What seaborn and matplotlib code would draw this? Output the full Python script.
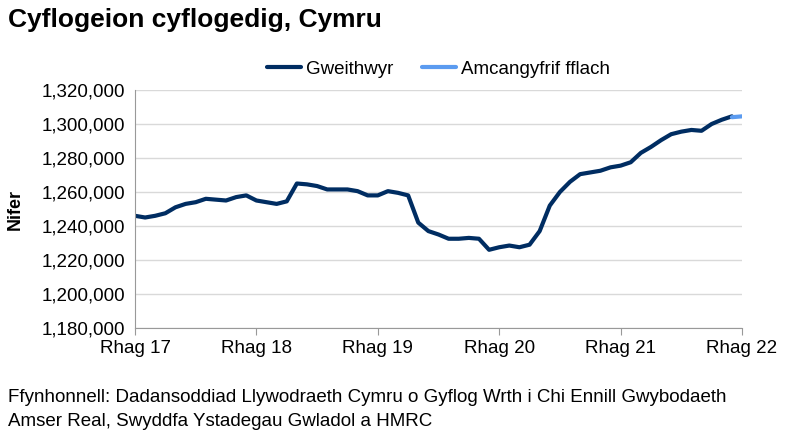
import matplotlib
matplotlib.use("Agg")
import matplotlib.pyplot as plt
import seaborn as sns
import pandas as pd

sns.set_style("white")
plt.rcParams['font.family'] = ['Liberation Sans', 'DejaVu Sans']
plt.rcParams['text.color'] = 'black'
plt.rcParams['xtick.color'] = 'black'
plt.rcParams['ytick.color'] = 'black'

# monthly values, thousands (Dec 2017 .. Dec 2022 axis)
workers = [1246, 1245, 1246, 1247.5, 1251, 1253, 1254, 1256, 1255.5, 1255, 1257, 1258,
           1255, 1254, 1253, 1254.5, 1265, 1264.5, 1263.5, 1261.5, 1261.5, 1261.5, 1260.5, 1258,
           1258, 1260.5, 1259.5, 1258, 1242, 1237, 1235, 1232.5, 1232.5, 1233, 1232.5, 1226,
           1227.5, 1228.5, 1227.5, 1229, 1237, 1252, 1260, 1266, 1270.5, 1271.5, 1272.5, 1274.5,
           1275.5, 1277.5, 1283, 1286.5, 1290.5, 1294, 1295.5, 1296.5, 1296, 1300, 1302.5, 1304.5]
flash = [1304, 1304.5]
tick_labels = ["Rhag 17", "Rhag 18", "Rhag 19", "Rhag 20", "Rhag 21", "Rhag 22"]

df = pd.DataFrame({"idx": range(len(workers)), "val": [v * 1000 for v in workers]})
df_flash = pd.DataFrame({"idx": [len(workers) - 1, len(workers)], "val": [v * 1000 for v in flash]})

fig = plt.figure(figsize=(7.9, 4.37), dpi=100)
ax = fig.add_axes([135 / 790, 1 - 328 / 437, 607 / 790, 238 / 437])

sns.lineplot(data=df, x="idx", y="val", ax=ax, color="#002d62", linewidth=3, label="Gweithwyr")
sns.lineplot(data=df_flash, x="idx", y="val", ax=ax, color="#5b9bf0", linewidth=3, label="Amcangyfrif fflach")

ax.set_xlim(0, 60)
ax.set_ylim(1180000, 1320000)
ax.set_yticks(range(1180000, 1320001, 20000))
ax.set_yticklabels([f"{v:,}" for v in range(1180000, 1320001, 20000)], fontsize=13.5)
ax.set_xticks(range(0, 61, 12))
ax.set_xticklabels(tick_labels, fontsize=13.5)
ax.tick_params(axis="x", length=5, direction="out", bottom=True, color="#999999")
ax.yaxis.grid(True, color="#d9d9d9", linewidth=1)
for s in ["top", "right"]:
    ax.spines[s].set_visible(False)
for s in ["left", "bottom"]:
    ax.spines[s].set_color("#999999")
ax.set_xlabel("")
ax.set_ylabel("")
fig.text(15 / 790, 1 - 209 / 437, "Nifer", fontsize=13, fontweight="bold", rotation=90, ha="center", va="center")

ax.legend(loc="lower center", bbox_to_anchor=(0.5, 1.02), ncol=2, frameon=False, fontsize=13.5,
          handlelength=1.8, handletextpad=0.3, columnspacing=1.5, borderaxespad=0)

fig.text(8 / 790, 1 - 20 / 437, "Cyflogeion cyflogedig, Cymru", fontsize=19, fontweight="bold", va="center")
fig.text(8 / 790, 1 - 397 / 437, "Ffynhonnell: Dadansoddiad Llywodraeth Cymru o Gyflog Wrth i Chi Ennill Gwybodaeth",
         fontsize=13.5, va="center")
fig.text(8 / 790, 1 - 421 / 437, "Amser Real, Swyddfa Ystadegau Gwladol a HMRC", fontsize=13.5, va="center")

fig.savefig("out.png", dpi=100)
